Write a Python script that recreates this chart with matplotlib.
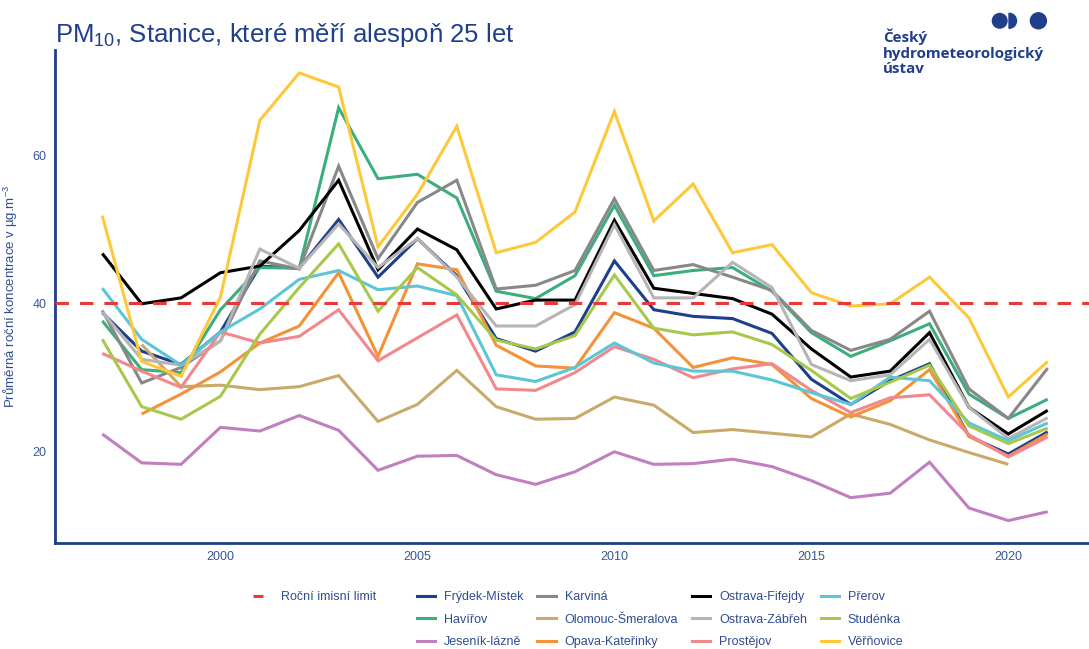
import matplotlib
matplotlib.use("Agg")
import numpy as np
import matplotlib.pyplot as plt
from matplotlib.lines import Line2D
from matplotlib.patches import Circle, Wedge

# ---- data: annual mean PM10 concentration (µg/m3) ----
years = list(range(1997, 2022))

frydek_mistek = [38.7, 33.5, 31.7, 36.1, 45.0, 44.7, 51.3, 43.5, 48.7, 43.7, 35.2, 33.5, 36.1,
                 45.7, 39.1, 38.2, 37.9, 35.9, 29.7, 26.3, 29.5, 31.8, 22.0, 19.6, 22.6]
havirov = [37.6, 31.0, 30.6, 39.1, 44.8, 44.7, 66.4, 56.8, 57.4, 54.2, 41.6, 40.6, 43.7,
           53.2, 43.7, 44.4, 44.8, 41.6, 36.0, 32.8, 34.9, 37.2, 27.7, 24.4, 27.0]
jesenik_lazne = [22.3, 18.4, 18.2, 23.2, 22.7, 24.8, 22.8, 17.4, 19.3, 19.4, 16.8, 15.5, 17.2,
                 19.9, 18.2, 18.3, 18.9, 17.9, 16.0, 13.7, 14.3, 18.5, 12.3, 10.6, 11.8]
karvina = [39.0, 29.2, 31.3, 34.9, 45.7, 44.6, 58.5, 46.0, 53.6, 56.6, 41.9, 42.4, 44.4,
           54.1, 44.4, 45.2, 43.5, 41.7, 36.3, 33.6, 35.1, 38.9, 28.4, 24.4, 31.2]
olomouc_smeralova = [np.nan, 34.4, 28.7, 28.9, 28.3, 28.7, 30.2, 24.0, 26.3, 30.9, 26.0, 24.3, 24.4,
                     27.3, 26.2, 22.5, 22.9, 22.4, 21.9, 25.0, 23.6, 21.5, 19.8, 18.2, np.nan]
opava_katerinky = [np.nan, 25.0, 27.7, 30.7, 34.6, 36.9, 44.1, 32.8, 45.3, 44.5, 34.3, 31.5, 31.2,
                   38.7, 36.6, 31.3, 32.6, 31.7, 27.1, 24.6, 26.8, 31.0, 22.0, 19.3, 22.3]
ostrava_fifejdy = [46.7, 39.9, 40.7, 44.1, 45.0, 49.8, 56.6, 44.5, 50.0, 47.2, 39.2, 40.4, 40.4,
                   51.2, 42.0, 41.3, 40.6, 38.5, 33.8, 30.0, 30.8, 36.0, 25.9, 22.3, 25.5]
ostrava_zabreh = [38.8, 32.4, 31.6, 34.9, 47.3, 44.7, 50.7, 44.8, 48.7, 43.5, 36.9, 36.9, 39.8,
                  50.6, 40.7, 40.7, 45.5, 42.1, 31.7, 29.5, 30.3, 35.1, 25.9, 21.7, 24.5]
prostejov = [33.2, 30.8, 28.6, 36.1, 34.6, 35.5, 39.1, 32.2, 35.3, 38.4, 28.4, 28.2, 30.6,
             34.1, 32.4, 29.9, 31.1, 31.8, 28.2, 25.2, 27.2, 27.6, 22.2, 19.2, 21.9]
prerov = [42.0, 35.1, 31.6, 36.1, 39.2, 43.2, 44.4, 41.8, 42.3, 41.0, 30.3, 29.4, 31.3,
          34.6, 31.9, 30.8, 30.8, 29.6, 27.9, 26.3, 30.0, 29.5, 23.8, 21.4, 23.8]
studenka = [35.1, 26.0, 24.3, 27.4, 35.8, 42.1, 48.0, 38.9, 44.8, 41.1, 35.0, 33.8, 35.6,
            43.8, 36.6, 35.7, 36.1, 34.4, 30.9, 27.1, 29.3, 31.6, 23.4, 21.0, 23.1]
vernovice = [51.8, 32.1, 30.1, 40.8, 64.7, 71.1, 69.2, 47.6, 54.7, 63.9, 46.8, 48.2, 52.3,
             65.9, 51.1, 56.1, 46.8, 47.9, 41.4, 39.6, 39.9, 43.5, 38.0, 27.3, 32.1]

annual_limit = 40
limit_label = "Roční imisní limit"

stations = ["Frýdek-Místek", "Havířov", "Jeseník-lázně", "Karviná", "Olomouc-Šmeralova",
            "Opava-Kateřinky", "Ostrava-Fifejdy", "Ostrava-Zábřeh", "Prostějov", "Přerov",
            "Studénka", "Věřňovice"]
series = [frydek_mistek, havirov, jesenik_lazne, karvina, olomouc_smeralova, opava_katerinky,
          ostrava_fifejdy, ostrava_zabreh, prostejov, prerov, studenka, vernovice]
colors = ["#1f3f8c", "#3cae7c", "#c07fbf", "#888888", "#c9aa6a", "#f39237",
          "#000000", "#b5b5b5", "#f2878e", "#5cc6d6", "#a8c84c", "#fdc93b"]

x_ticks = [2000, 2005, 2010, 2015, 2020]
y_ticks = [20, 40, 60]

# ---- fonts ----
plt.rcParams["font.family"] = ["Liberation Sans", "DejaVu Sans"]
plt.rcParams["mathtext.fontset"] = "custom"
plt.rcParams["mathtext.rm"] = "Liberation Sans"
plt.rcParams["mathtext.it"] = "Liberation Sans"

navy = "#1f3f8c"
text_blue = "#2f4c92"

W, H = 1089, 649
fig = plt.figure(figsize=(W / 100, H / 100), dpi=100)
fig.patch.set_facecolor("white")

left_px, right_px, top_px, bottom_px = 55, 1095, 50, 543
ax = fig.add_axes([left_px / W, 1 - bottom_px / H, (right_px - left_px) / W, (bottom_px - top_px) / H])
ax.set_xlim(1995.8, 2022.2)
ax.set_ylim(7.57, 74.2)

lw = 2.2
for name, vals, col in zip(stations, series, colors):
    ax.plot(years, vals, color=col, lw=lw, solid_joinstyle="miter", solid_capstyle="butt", zorder=2)

ax.axhline(annual_limit, color="#e8383a", lw=lw, dashes=(4.4, 3.6), zorder=3)

for s in ["top", "right"]:
    ax.spines[s].set_visible(False)
for s in ["left", "bottom"]:
    ax.spines[s].set_color(navy)
    ax.spines[s].set_linewidth(2.0)

ax.set_xticks(x_ticks)
ax.set_yticks(y_ticks)
ax.tick_params(length=0, labelsize=9, labelcolor="#3a5596", pad=6)
ax.set_ylabel("Průměrná roční koncentrace v µg.m$^{-3}$", fontsize=9.5, color=text_blue)
ax.yaxis.set_label_coords(-35 / (right_px - left_px), 0.5)

# title
fig.text(55 / W, 1 - 35 / H, "PM$_{\\mathregular{10}}$, Stanice, které měří alespoň 25 let",
         fontsize=18.5, color=navy, va="center", ha="left")

# institute mark
lax = fig.add_axes([0, 0, 1, 1], zorder=5)
lax.set_xlim(0, W)
lax.set_ylim(H, 0)
lax.axis("off")
lax.add_patch(Circle((999.7, 20.8), 7.3, color=navy))
lax.add_patch(Wedge((1009.0, 20.8), 7.5, -90, 90, color=navy))
lax.add_patch(Circle((1038.4, 20.8), 8.0, color=navy))
for txt, base in [("Český", 42), ("hydrometeorologický", 58), ("ústav", 73)]:
    lax.text(883, base, txt, fontsize=10.9, fontweight="bold", color=navy,
             family=["Open Sans", "DejaVu Sans"], va="baseline", ha="left")

# legends
fs = 9
limit_handle = [Line2D([0], [0], color="#e8383a", lw=lw, dashes=(4.4, 3.6))]
leg1 = fig.legend(limit_handle, [limit_label], loc="upper left",
                  bbox_to_anchor=(253 / W, 1 - 591 / H), frameon=False,
                  handlelength=0.8, handletextpad=1.45, borderpad=0, borderaxespad=0,
                  prop={"size": fs})
for t in leg1.get_texts():
    t.set_color(text_blue)

handles = [Line2D([0], [0], color=c, lw=lw) for c in colors]
leg2 = fig.legend(handles, stations, loc="upper left", ncol=4,
                  bbox_to_anchor=(417 / W, 1 - 591 / H), frameon=False,
                  handlelength=1.45, handletextpad=0.72, columnspacing=1.1, labelspacing=0.85,
                  borderpad=0, borderaxespad=0, prop={"size": fs})
for t in leg2.get_texts():
    t.set_color(text_blue)

fig.savefig("out.png", dpi=100, facecolor="white")
